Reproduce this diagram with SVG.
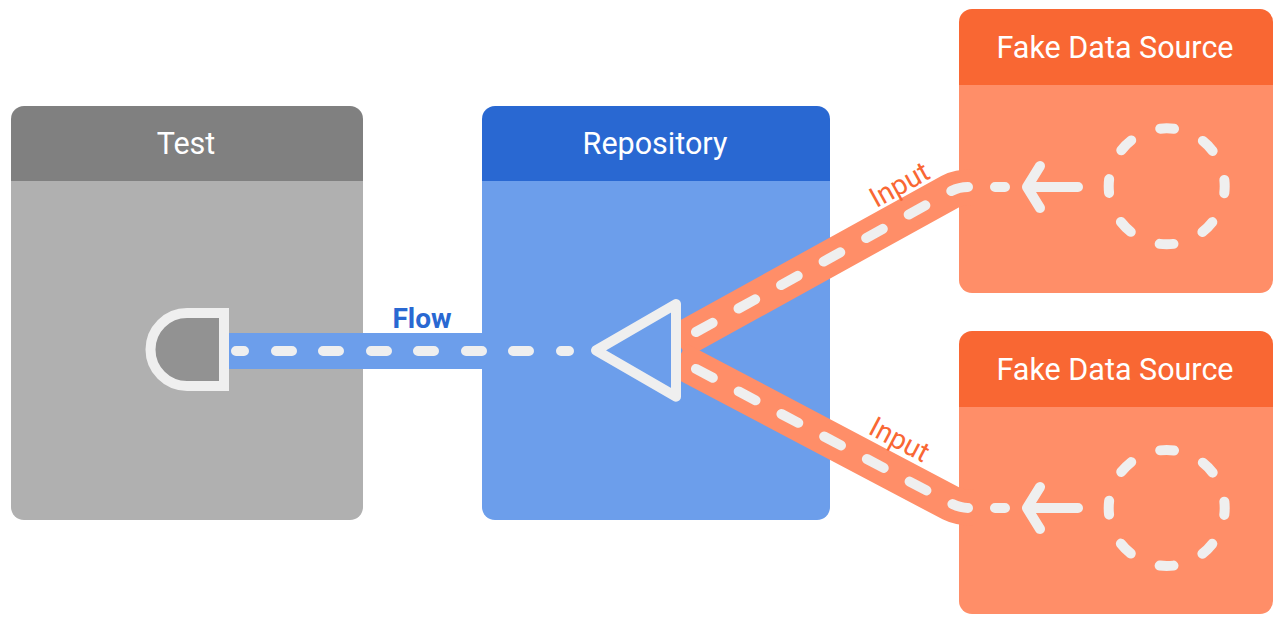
<svg xmlns="http://www.w3.org/2000/svg" width="1280" height="622" viewBox="0 0 1280 622">
<style>
.t{font-family:Roboto,"Liberation Sans",sans-serif;font-size:30.500px;fill:#fff;text-anchor:middle}
.in{font-family:Roboto,"Liberation Sans",sans-serif;font-size:28px;fill:#F96733;text-anchor:middle}
.band{fill:none;stroke-width:36}
.dash{fill:none;stroke:#EFEFEF;stroke-width:10;stroke-linecap:round;stroke-linejoin:round}
.ring{fill:none;stroke:#EFEFEF;stroke-width:10;stroke-linecap:round;stroke-dasharray:14 31.55;stroke-dashoffset:7}
</style>
<rect width="1280" height="622" fill="#fff"/>
<g id="test">
<path d="M11 181V119a13 13 0 0 1 13-13H350a13 13 0 0 1 13 13V181Z" fill="#808080"/>
<path d="M11 181H363V507a13 13 0 0 1-13 13H24a13 13 0 0 1-13-13Z" fill="#B0B0B0"/>
<text class="t" x="186" y="153.500">Test</text>
</g>
<g id="repository">
<path d="M482 181V119a13 13 0 0 1 13-13H817a13 13 0 0 1 13 13V181Z" fill="#2968D2"/>
<path d="M482 181H830V507a13 13 0 0 1-13 13H495a13 13 0 0 1-13-13Z" fill="#6C9EEB"/>
<text class="t" x="655" y="153.500">Repository</text>
</g>
<g id="fake-source-1">
<path d="M959 85V22a13 13 0 0 1 13-13H1260a13 13 0 0 1 13 13V85Z" fill="#F96733"/>
<path d="M959 85H1273V280a13 13 0 0 1-13 13H972a13 13 0 0 1-13-13Z" fill="#FF8E68"/>
<text class="t" x="1115" y="57.500">Fake Data Source</text>
</g>
<g id="fake-source-2">
<path d="M959 407V344a13 13 0 0 1 13-13H1260a13 13 0 0 1 13 13V407Z" fill="#F96733"/>
<path d="M959 407H1273V601a13 13 0 0 1-13 13H972a13 13 0 0 1-13-13Z" fill="#FF8E68"/>
<text class="t" x="1115" y="379.500">Fake Data Source</text>
</g>
<g id="connectors">
<path class="band" stroke="#6C9EEB" d="M229 351H483"/>
<path class="dash" d="M236 351H244M276 351H292M323 351H339M371 351H387M418 351H434M466 351H482M513 351H529M561 351H569"/>
<path class="band" stroke="#FF8E68" d="M678 342L950 191.700Q958.500 187 975 187"/>
<path class="band" stroke="#FF8E68" d="M678 359.300L951 503.400Q960 508 975 508"/>
<path class="dash" stroke-dasharray="19 29.600" d="M696 332L950 191.700Q958.500 187 968 187"/>
<path class="dash" stroke-dasharray="19 29.300" d="M696 368.900L951 503.400Q960 508 968 508"/>
<path class="dash" d="M995 187H1005M995 508H1005"/>
<path class="dash" d="M1078 187H1027M1040 166L1027 187L1040 208"/>
<path class="dash" d="M1078 508H1027M1040 487L1027 508L1040 529"/>
<text class="in" transform="translate(904 193) rotate(-29)">Input</text>
<text class="in" transform="translate(895 448) rotate(28)">Input</text>
<text x="422" y="328" font-family="Roboto,'Liberation Sans',sans-serif" font-size="28" font-weight="700" fill="#2968D2" text-anchor="middle">Flow</text>
</g>
<g id="flow-collector">
<path d="M224 313V386H187A36.500 36.500 0 0 1 187 313Z" fill="#929292" stroke="#EFEFEF" stroke-width="10"/>
</g>
<g id="flow-operator">
<path d="M596 350.400L676 304V396.700Z" fill="#6C9EEB" stroke="#EFEFEF" stroke-width="10" stroke-linejoin="round"/>
</g>
<g id="source-ring-1"><circle class="ring" cx="1166.700" cy="186.300" r="58"/></g>
<g id="source-ring-2"><circle class="ring" cx="1166.700" cy="508" r="58"/></g>
</svg>
